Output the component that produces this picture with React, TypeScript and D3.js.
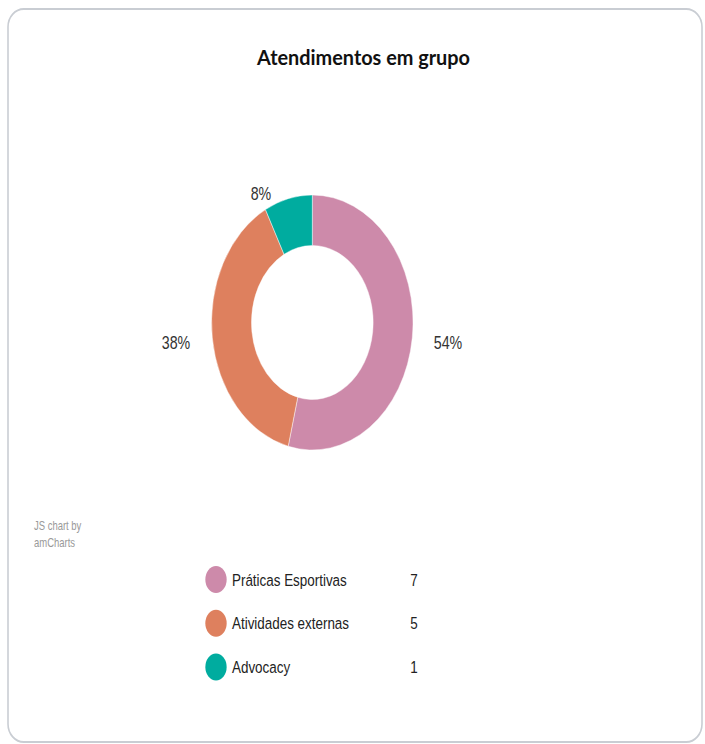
import React from "react";
import * as d3 from "d3";

const categories = ["Práticas Esportivas", "Atividades externas", "Advocacy"];
const values = [7, 5, 1];
const colors = ["#CD8AAA", "#DE805E", "#00AC9F"];
const title = "Atendimentos em grupo";

const SX = 0.79;
const W = 705;
const H = 744;

export default function App() {
  const cx = 312.3 / SX;
  const cy = 322.5;
  const rOuter = 127.5;
  const rInner = 77;
  const total = d3.sum(values);
  const pie = d3.pie<number>().sort(null).value((d) => d);
  const arcs = pie(values);
  const arc = d3.arc<d3.PieArcDatum<number>>().innerRadius(rInner).outerRadius(rOuter);
  const fmt = (v: number) => `${Math.round((v / total) * 100)}%`;

  // label anchor positions (real px), per slice
  const labelPos: [number, number][] = [
    [448, 342.5],
    [176, 342.5],
    [261, 194],
  ];

  const legendY = d3.scalePoint<string>().domain(categories).range([579.5, 667]);

  return (
    <div style={{ position: "absolute", left: 0, top: 0 }}>
      <svg width={W} height={H} style={{ display: "block" }}>
        <rect x={0} y={0} width={W} height={H} fill="#ffffff" />
        <g transform={`scale(${SX},1)`}>
          <rect
            x={8 / SX}
            y={9}
            width={(702 - 8) / SX}
            height={733}
            rx={20}
            ry={18}
            fill="#ffffff"
            stroke="#c9cdd3"
            strokeWidth={2}
          />
          <text
            x={257 / SX}
            y={65}
            textLength={213 / SX}
            lengthAdjust="spacingAndGlyphs"
            fontFamily="Lato"
            fontWeight="bold"
            fontSize={21}
            fill="#111"
          >
            {title}
          </text>
          <g transform={`translate(${cx},${cy})`}>
            {arcs.map((a, i) => (
              <path key={i} d={arc(a) || ""} fill={colors[i]} stroke="#ffffff" strokeWidth={0.5} />
            ))}
          </g>
          {arcs.map((a, i) => (
            <text
              key={i}
              x={labelPos[i][0] / SX}
              y={labelPos[i][1]}
              dy="0.36em"
              textAnchor="middle"
              fontFamily="Liberation Sans"
              fontSize={18}
              fill="#333"
            >
              {fmt(values[i])}
            </text>
          ))}
          <text x={34 / SX} y={530} fontFamily="Liberation Sans" fontSize={12} fill="#999">
            JS chart by
          </text>
          <text x={34 / SX} y={547} fontFamily="Liberation Sans" fontSize={12} fill="#999">
            amCharts
          </text>
          {categories.map((c, i) => {
            const y = legendY(c) as number;
            return (
              <g key={c}>
                <circle cx={216 / SX} cy={y} r={13.5} fill={colors[i]} />
                <text x={232 / SX} y={y} dy="0.36em" fontFamily="Liberation Sans" fontSize={17} fill="#222">
                  {c}
                </text>
                <text x={414 / SX} y={y} dy="0.36em" textAnchor="middle" fontFamily="Liberation Sans" fontSize={17} fill="#222">
                  {values[i]}
                </text>
              </g>
            );
          })}
        </g>
      </svg>
    </div>
  );
}
